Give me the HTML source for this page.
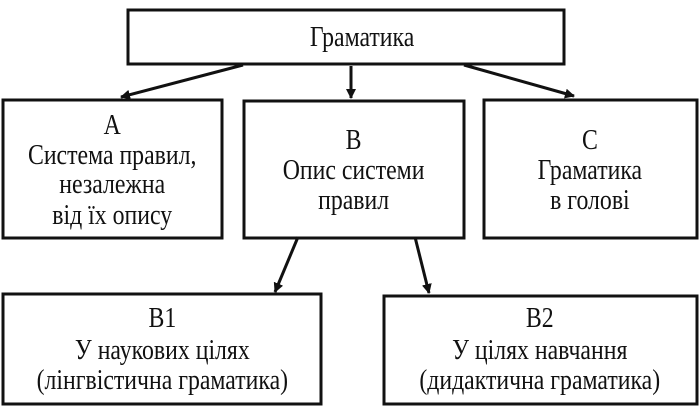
<!DOCTYPE html>
<html><head><meta charset="utf-8"><style>
html,body{margin:0;padding:0;background:#fff;width:700px;height:406px;overflow:hidden}
</style></head><body>
<svg width="700" height="406" viewBox="0 0 700 406" xmlns="http://www.w3.org/2000/svg">
<defs><marker id="a" markerWidth="10" markerHeight="10" refX="9" refY="5" orient="auto" markerUnits="userSpaceOnUse"><path d="M0,0 L10,5 L0,10 Z" fill="#111"/></marker></defs>
<g fill="none" stroke="#111" stroke-width="3">
<rect x="128" y="10" width="436" height="54"/>
<rect x="3" y="100" width="219" height="138"/>
<rect x="244" y="101" width="220" height="137"/>
<rect x="484" y="100" width="213" height="138"/>
<rect x="3" y="294" width="318" height="110"/>
<rect x="384" y="296" width="313" height="108"/>
</g>
<g stroke="#111" stroke-width="3" marker-end="url(#a)">
<line x1="243" y1="65" x2="121" y2="97"/>
<line x1="351" y1="66" x2="351" y2="98"/>
<line x1="464" y1="65" x2="574" y2="96"/>
<line x1="298" y1="237" x2="275" y2="292"/>
<line x1="415" y1="237" x2="429" y2="293"/>
</g>
<g transform="scale(0.85,1)" font-family="Liberation Serif, serif" font-size="28" fill="#111" text-anchor="middle">
<text x="426" y="46">Граматика</text>
<text x="132" y="134">A</text>
<text x="132" y="164">Система правил,</text>
<text x="132" y="193">незалежна</text>
<text x="132" y="224">від їх опису</text>
<text x="416" y="149">B</text>
<text x="416" y="179">Опис системи</text>
<text x="416" y="209">правил</text>
<text x="694" y="149">C</text>
<text x="694" y="179">Граматика</text>
<text x="694" y="209">в голові</text>
<text x="191" y="327">B1</text>
<text x="191" y="359">У наукових цілях</text>
<text x="191" y="389">(лінгвістична граматика)</text>
<text x="635" y="327">B2</text>
<text x="635" y="359">У цілях навчання</text>
<text x="635" y="389">(дидактична граматика)</text>
</g>
</svg>
</body></html>
